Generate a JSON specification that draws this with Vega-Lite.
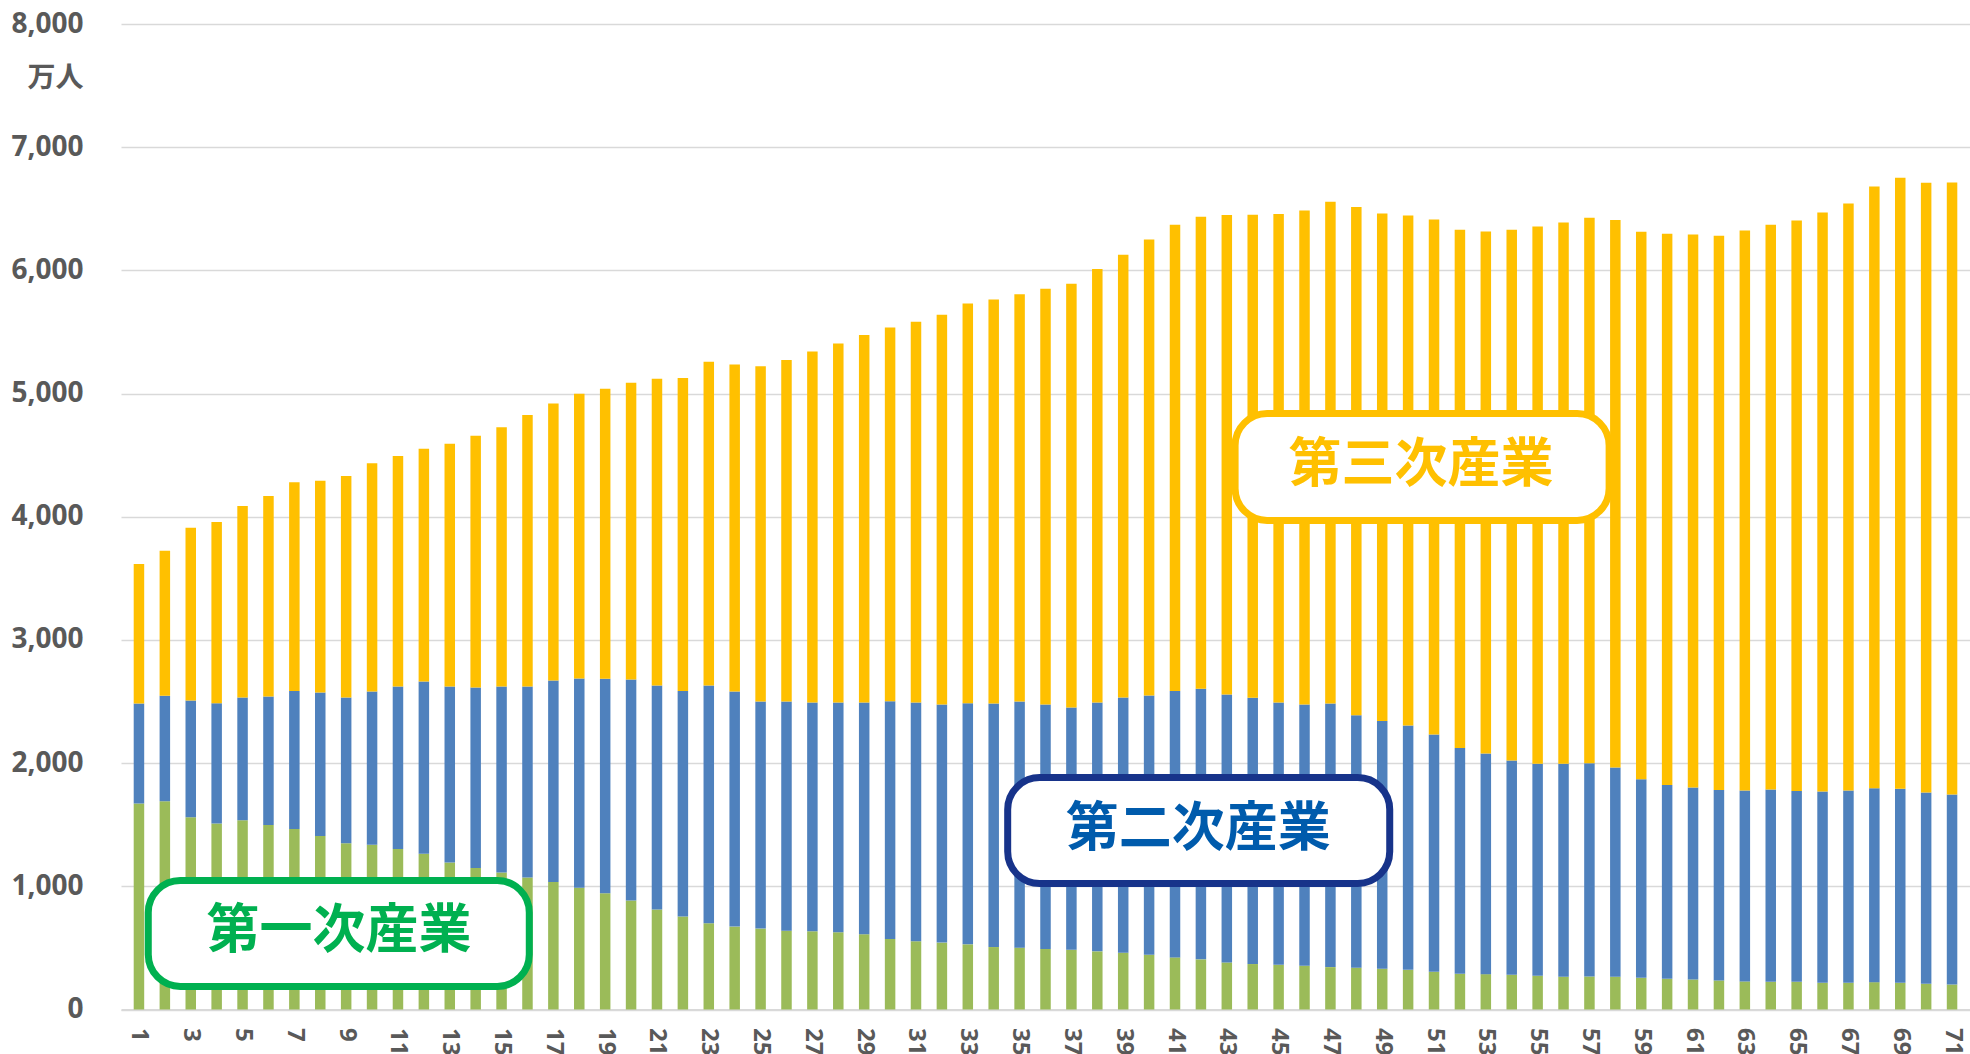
{
  "$schema": "https://vega.github.io/schema/vega-lite/v6.json",
  "width": 1849,
  "height": 985.5,
  "autosize": "none",
  "padding": {"left": 121, "top": 24, "right": 0, "bottom": 44.5},
  "background": "white",
  "config": {"view": {"stroke": null}},
  "datasets": {
    "bars": [
      {"n":1,"第一次産業":1672,"第二次産業":812,"第三次産業":1133},
      {"n":2,"第一次産業":1691,"第二次産業":855,"第三次産業":1177},
      {"n":3,"第一次産業":1560,"第二次産業":948,"第三次産業":1402},
      {"n":4,"第一次産業":1509,"第二次産業":977,"第三次産業":1471},
      {"n":5,"第一次産業":1536,"第二次産業":996,"第三次産業":1555},
      {"n":6,"第一次産業":1498,"第二次産業":1043,"第三次産業":1627},
      {"n":7,"第一次産業":1465,"第二次産業":1121,"第三次産業":1694},
      {"n":8,"第一次産業":1408,"第二次産業":1165,"第三次産業":1720},
      {"n":9,"第一次産業":1349,"第二次産業":1183,"第三次産業":1799},
      {"n":10,"第一次産業":1338,"第二次産業":1243,"第三次産業":1853},
      {"n":11,"第一次産業":1303,"第二次産業":1319,"第三次産業":1872},
      {"n":12,"第一次産業":1265,"第二次産業":1397,"第三次産業":1889},
      {"n":13,"第一次産業":1194,"第二次産業":1428,"第三次産業":1970},
      {"n":14,"第一次産業":1148,"第二次産業":1466,"第三次産業":2043},
      {"n":15,"第一次産業":1113,"第二次産業":1509,"第三次産業":2105},
      {"n":16,"第一次産業":1072,"第二次産業":1550,"第三次産業":2203},
      {"n":17,"第一次産業":1034,"第二次産業":1636,"第三次産業":2250},
      {"n":18,"第一次産業":988,"第二次産業":1698,"第三次産業":2313},
      {"n":19,"第一次産業":944,"第二次産業":1740,"第三次産業":2355},
      {"n":20,"第一次産業":885,"第二次産業":1793,"第三次産業":2410},
      {"n":21,"第一次産業":811,"第二次産業":1819,"第三次産業":2491},
      {"n":22,"第一次産業":754,"第二次産業":1832,"第三次産業":2540},
      {"n":23,"第一次産業":700,"第二次産業":1930,"第三次産業":2629},
      {"n":24,"第一次産業":673,"第二次産業":1908,"第三次産業":2654},
      {"n":25,"第一次産業":657,"第二次産業":1843,"第三次産業":2721},
      {"n":26,"第一次産業":640,"第二次産業":1860,"第三次産業":2773},
      {"n":27,"第一次産業":635,"第二次産業":1857,"第三次産業":2849},
      {"n":28,"第一次産業":627,"第二次産業":1865,"第三次産業":2914},
      {"n":29,"第一次産業":611,"第二次産業":1881,"第三次産業":2984},
      {"n":30,"第一次産業":573,"第二次産業":1930,"第三次産業":3033},
      {"n":31,"第一次産業":554,"第二次産業":1938,"第三次産業":3090},
      {"n":32,"第一次産業":543,"第二次産業":1933,"第三次産業":3163},
      {"n":33,"第一次産業":529,"第二次産業":1957,"第三次産業":3245},
      {"n":34,"第一次産業":507,"第二次産業":1977,"第三次産業":3280},
      {"n":35,"第一次産業":502,"第二次産業":1998,"第三次産業":3307},
      {"n":36,"第一次産業":491,"第二次産業":1985,"第三次産業":3375},
      {"n":37,"第一次産業":485,"第二次産業":1966,"第三次産業":3441},
      {"n":38,"第一次産業":472,"第二次産業":2020,"第三次産業":3519},
      {"n":39,"第一次産業":461,"第二次産業":2071,"第三次産業":3595},
      {"n":40,"第一次産業":444,"第二次産業":2105,"第三次産業":3702},
      {"n":41,"第一次産業":423,"第二次産業":2163,"第三次産業":3784},
      {"n":42,"第一次産業":407,"第二次産業":2196,"第三次産業":3832},
      {"n":43,"第一次産業":382,"第二次産業":2175,"第三次産業":3892},
      {"n":44,"第一次産業":369,"第二次産業":2161,"第三次産業":3921},
      {"n":45,"第一次産業":363,"第二次産業":2129,"第三次産業":3965},
      {"n":46,"第一次産業":355,"第二次産業":2121,"第三次産業":4010},
      {"n":47,"第一次産業":344,"第二次産業":2140,"第三次産業":4073},
      {"n":48,"第一次産業":339,"第二次産業":2050,"第三次産業":4125},
      {"n":49,"第一次産業":331,"第二次産業":2010,"第三次産業":4121},
      {"n":50,"第一次産業":322,"第二次産業":1983,"第三次産業":4141},
      {"n":51,"第一次産業":306,"第二次産業":1926,"第三次産業":4182},
      {"n":52,"第一次産業":290,"第二次産業":1832,"第三次産業":4208},
      {"n":53,"第一次産業":287,"第二次産業":1791,"第三次産業":4238},
      {"n":54,"第一次産業":282,"第二次産業":1740,"第三次産業":4308},
      {"n":55,"第一次産業":274,"第二次産業":1721,"第三次産業":4362},
      {"n":56,"第一次産業":266,"第二次産業":1729,"第三次産業":4394},
      {"n":57,"第一次産業":268,"第二次産業":1732,"第三次産業":4427},
      {"n":58,"第一次産業":266,"第二次産業":1699,"第三次産業":4443},
      {"n":59,"第一次産業":257,"第二次産業":1613,"第三次産業":4444},
      {"n":60,"第一次産業":249,"第二次産業":1573,"第三次産業":4475},
      {"n":61,"第一次産業":244,"第二次産業":1559,"第三次産業":4489},
      {"n":62,"第一次産業":236,"第二次産業":1545,"第三次産業":4500},
      {"n":63,"第一次産業":228,"第二次産業":1550,"第三次産業":4546},
      {"n":64,"第一次産業":225,"第二次産業":1561,"第三次産業":4584},
      {"n":65,"第一次産業":225,"第二次産業":1548,"第三次産業":4632},
      {"n":66,"第一次産業":217,"第二次産業":1553,"第三次産業":4700},
      {"n":67,"第一次産業":217,"第二次産業":1561,"第三次産業":4765},
      {"n":68,"第一次産業":222,"第二次産業":1575,"第三次産業":4884},
      {"n":69,"第一次産業":217,"第二次産業":1575,"第三次産業":4959},
      {"n":70,"第一次産業":209,"第二次産業":1553,"第三次産業":4949},
      {"n":71,"第一次産業":203,"第二次産業":1543,"第三次産業":4968}
    ],
    "labels": [
      {"label":"第一次産業","left":1.36,"right":16.07,"bottom":187,"top":1047,"cx":8.72,"cy":630},
      {"label":"第二次産業","left":34.54,"right":49.29,"bottom":1023,"top":1883,"cx":41.9,"cy":1458},
      {"label":"第三次産業","left":43.32,"right":57.76,"bottom":3970,"top":4838,"cx":50.5,"cy":4412}
    ]
  },
  "layer": [
    {
      "data": {"name": "bars"},
      "transform": [
        {"fold": ["第一次産業", "第二次産業", "第三次産業"], "as": ["industry", "v"]},
        {"window": [{"op": "row_number", "as": "k"}], "groupby": ["n"]}
      ],
      "mark": {"type": "bar", "width": 10.5},
      "encoding": {
        "x": {
          "field": "n", "type": "quantitative",
          "scale": {"domain": [0.5, 71.5], "nice": false, "zero": false},
          "axis": {
            "title": null,
            "values": [1,3,5,7,9,11,13,15,17,19,21,23,25,27,29,31,33,35,37,39,41,43,45,47,49,51,53,55,57,59,61,63,65,67,69,71],
            "format": "d",
            "labelAngle": 90,
            "labelFont": "Noto Sans",
            "labelFontSize": 24,
            "labelFontWeight": "bold",
            "labelColor": "#595959",
            "labelPadding": 18,
            "labelOverlap": false,
            "labelBound": false,
            "labelFlush": false,
            "ticks": false,
            "grid": false,
            "domainColor": "#D9D9D9",
            "domainWidth": 2
          }
        },
        "y": {
          "field": "v", "type": "quantitative", "stack": "zero",
          "scale": {"domain": [0, 8000], "nice": false},
          "axis": {
            "title": "万人",
            "titleAngle": 0,
            "titleX": -38,
            "titleY": 54,
            "titleAlign": "right",
            "titleBaseline": "middle",
            "titleFont": "Noto Sans CJK JP",
            "titleFontSize": 28,
            "titleFontWeight": "bold",
            "titleColor": "#595959",
            "values": [0,1000,2000,3000,4000,5000,6000,7000,8000],
            "format": ",d",
            "labelFont": "Noto Sans",
            "labelFontSize": 28,
            "labelFontWeight": "bold",
            "labelColor": "#595959",
            "labelPadding": 38,
            "ticks": false,
            "domain": false,
            "gridColor": "#D9D9D9",
            "gridWidth": 1.7
          }
        },
        "color": {
          "field": "industry", "type": "nominal",
          "scale": {"domain": ["第一次産業", "第二次産業", "第三次産業"], "range": ["#9BBB59", "#4F81BD", "#FFC000"]},
          "legend": null
        },
        "order": {"field": "k", "type": "quantitative", "sort": "ascending"}
      }
    },
    {
      "data": {"name": "labels"},
      "mark": {"type": "rect", "fill": "white", "strokeWidth": 7, "cornerRadius": 32},
      "encoding": {
        "x": {"field": "left", "type": "quantitative"},
        "x2": {"field": "right"},
        "y": {"field": "bottom", "type": "quantitative"},
        "y2": {"field": "top"},
        "stroke": {
          "field": "label", "type": "nominal",
          "scale": {"domain": ["第一次産業", "第二次産業", "第三次産業"], "range": ["#00B050", "#17338A", "#FFC000"]},
          "legend": null
        }
      }
    },
    {
      "data": {"name": "labels"},
      "mark": {"type": "text", "font": "Noto Sans CJK JP", "fontSize": 53, "fontWeight": "bold", "align": "center", "baseline": "middle"},
      "encoding": {
        "x": {"field": "cx", "type": "quantitative"},
        "y": {"field": "cy", "type": "quantitative"},
        "text": {"field": "label"},
        "fill": {
          "field": "label", "type": "nominal",
          "scale": {"domain": ["第一次産業", "第二次産業", "第三次産業"], "range": ["#00B050", "#005BAC", "#FFC000"]},
          "legend": null
        }
      }
    }
  ]
}
